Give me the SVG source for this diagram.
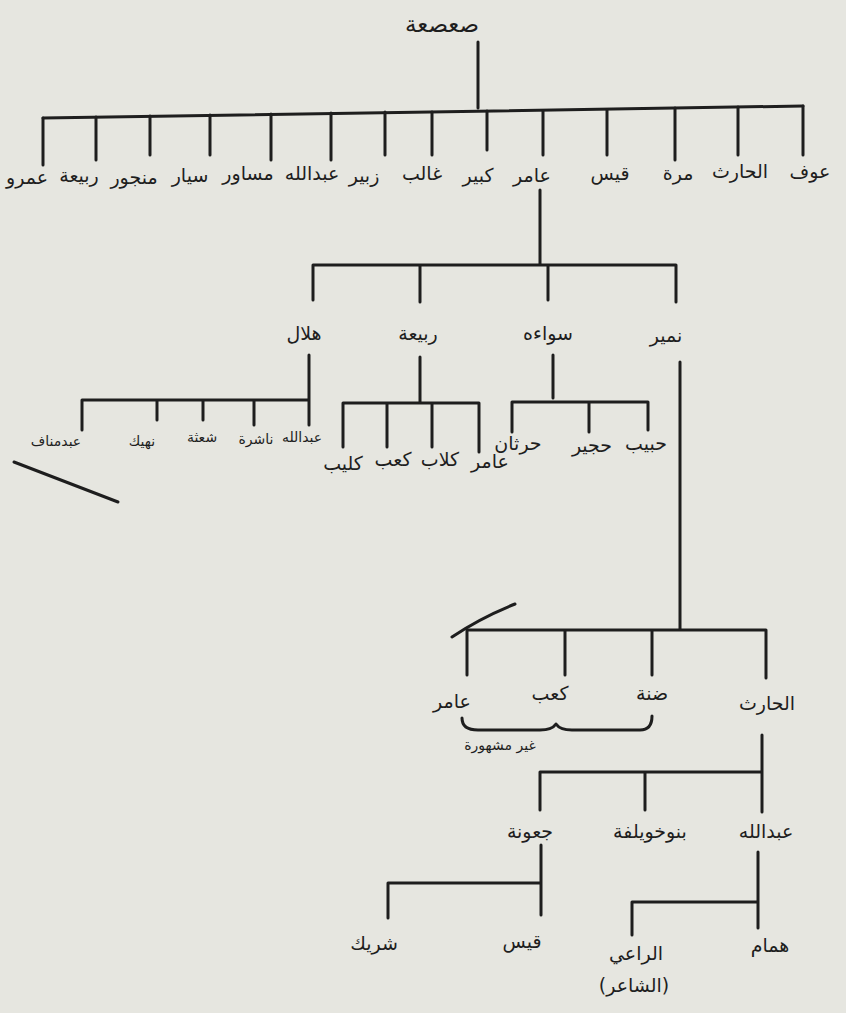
<svg xmlns="http://www.w3.org/2000/svg" width="846" height="1013" viewBox="0 0 846 1013">
<style>
.l{stroke:#1e1e1e;stroke-width:3;fill:none;stroke-linecap:round;stroke-linejoin:round}
.t{font-family:"DejaVu Sans",sans-serif;font-size:19px;fill:#1e1e1e;text-anchor:middle}
.s{font-size:14px}
.b{font-size:23px}
</style>
<rect width="846" height="1013" fill="#e6e6e0"/>
<g id="connectors">
<path class="l" d="M478 42V108"/>
<path class="l" d="M43 118L803 106"/>
<path class="l" d="M43 118V165M96 117V160M150 116V155M210 115V155M271 114V160M331 113V160M385 112V155M432 112V155M487 111V150M543 111V155M607 110V155M675 108V160M738 107V155M803 106V155"/>
<path class="l" d="M540 190V265M313 265H676M313 265V300M420 265V302M548 265V300M676 265V302"/>
<path class="l" d="M309 355V425M82 400H309M82 400V430M157 400V420M203 400V420M254 400V425"/>
<path class="l" d="M420 357V403M343 403H479M343 403V447M387 403V447M432 403V447M479 403V452"/>
<path class="l" d="M553 355V398M512 402H648M512 402V432M589 402V432M648 402V430"/>
<path class="l" d="M680 362V630M467 630H766M467 630V675M565 630V675M652 630V675M766 630V678"/>
<path class="l" d="M452 637Q480 618 515 604" stroke-width="2.5"/>
<path class="l" d="M14 462L118 502" stroke-width="1.8"/>
<path class="l" d="M462 718Q462 730 478 730H540Q552 730 556 724Q560 730 572 730H640Q652 730 652 716" stroke-width="2.5"/>
<path class="l" d="M762 735V772M540 772H762M540 772V810M645 772V810M762 772V812"/>
<path class="l" d="M541 845V915M388 883H541M388 883V918"/>
<path class="l" d="M758 852V928M632 902H758M632 902V935"/>
</g>
<g id="n0"><text class="t b" x="442" y="32">صعصعة</text></g>
<g id="n1"><text class="t" x="810" y="178">عوف</text></g>
<g id="n2"><text class="t" x="740" y="178">الحارث</text></g>
<g id="n3"><text class="t" x="678" y="180">مرة</text></g>
<g id="n4"><text class="t" x="610" y="180">قيس</text></g>
<g id="n5"><text class="t" x="532" y="182">عامر</text></g>
<g id="n6"><text class="t" x="478" y="182">كبير</text></g>
<g id="n7"><text class="t" x="422" y="180">غالب</text></g>
<g id="n8"><text class="t" x="364" y="182">زبير</text></g>
<g id="n9"><text class="t" x="312" y="180">عبدالله</text></g>
<g id="n10"><text class="t" x="248" y="180">مساور</text></g>
<g id="n11"><text class="t" x="190" y="182">سيار</text></g>
<g id="n12"><text class="t" x="134" y="184">منجور</text></g>
<g id="n13"><text class="t" x="79" y="182">ربيعة</text></g>
<g id="n14"><text class="t" x="27" y="184">عمرو</text></g>
<g id="n15"><text class="t" x="304" y="340">هلال</text></g>
<g id="n16"><text class="t" x="418" y="340">ربيعة</text></g>
<g id="n17"><text class="t" x="548" y="340">سواءه</text></g>
<g id="n18"><text class="t" x="666" y="342">نمير</text></g>
<g id="n19"><text class="t s" x="302" y="442">عبدالله</text></g>
<g id="n20"><text class="t s" x="256" y="444">ناشرة</text></g>
<g id="n21"><text class="t s" x="202" y="442">شعثة</text></g>
<g id="n22"><text class="t s" x="142" y="446">نهيك</text></g>
<g id="n23"><text class="t s" x="56" y="446">عبدمناف</text></g>
<g id="n24"><text class="t" x="490" y="468">عامر</text></g>
<g id="n25"><text class="t" x="440" y="466">كلاب</text></g>
<g id="n26"><text class="t" x="393" y="466">كعب</text></g>
<g id="n27"><text class="t" x="343" y="470">كليب</text></g>
<g id="n28"><text class="t" x="646" y="450">حبيب</text></g>
<g id="n29"><text class="t" x="592" y="452">حجير</text></g>
<g id="n30"><text class="t" x="518" y="450">حرثان</text></g>
<g id="n31"><text class="t" x="767" y="710">الحارث</text></g>
<g id="n32"><text class="t" x="652" y="700">ضنة</text></g>
<g id="n33"><text class="t" x="550" y="700">كعب</text></g>
<g id="n34"><text class="t" x="452" y="708">عامر</text></g>
<g id="n35"><text class="t s" x="500" y="750">غير مشهورة</text></g>
<g id="n36"><text class="t" x="766" y="838">عبدالله</text></g>
<g id="n37"><text class="t" x="650" y="838">بنوخويلفة</text></g>
<g id="n38"><text class="t" x="530" y="838">جعونة</text></g>
<g id="n39"><text class="t" x="522" y="948">قيس</text></g>
<g id="n40"><text class="t" x="374" y="950">شريك</text></g>
<g id="n41"><text class="t" x="636" y="960">الراعي</text><text class="t" x="634" y="992">(الشاعر)</text></g>
<g id="n42"><text class="t" x="770" y="952">همام</text></g>
</svg>
